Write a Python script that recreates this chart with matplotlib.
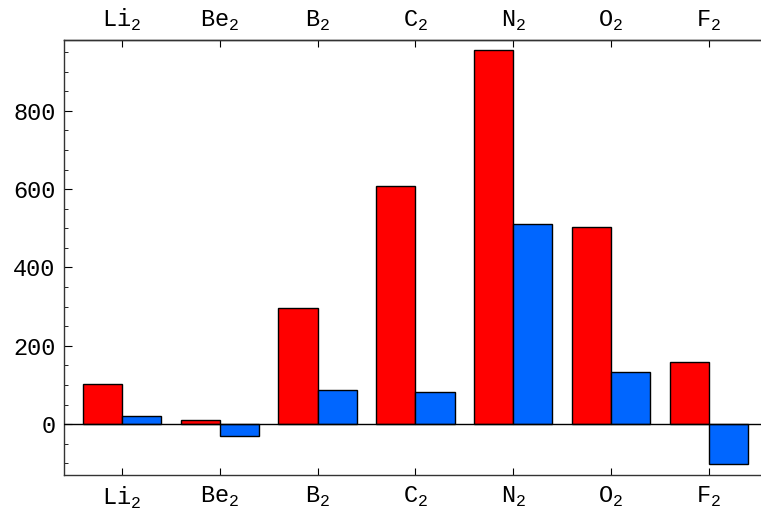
import matplotlib.pyplot as plt
import numpy as np

plt.rcParams['font.family'] = ['Liberation Mono', 'DejaVu Sans Mono']
plt.rcParams['mathtext.fontset'] = 'custom'
plt.rcParams['mathtext.rm'] = 'Liberation Mono'

# Datos
molecules = [r'Li$_\mathregular{2}$', r'Be$_\mathregular{2}$', r'B$_\mathregular{2}$',
             r'C$_\mathregular{2}$', r'N$_\mathregular{2}$', r'O$_\mathregular{2}$',
             r'F$_\mathregular{2}$']
red_values = [102, 10, 296, 608, 956, 503, 158]
blue_values = [20, -31, 87, 82, 511, 133, -102]
y_ticks = [0, 200, 400, 600, 800]

fig = plt.figure(figsize=(7.61, 5.12), dpi=100)
ax = fig.add_axes([64 / 761, 1 - 475 / 512, 1 - 64 / 761, 435 / 512])

x = np.arange(len(molecules))
w = 0.4
ax.bar(x - w / 2, red_values, width=w, color='#ff0000', edgecolor='black', linewidth=1, zorder=2)
ax.bar(x + w / 2, blue_values, width=w, color='#0066ff', edgecolor='black', linewidth=1, zorder=2)
ax.axhline(0, color='black', linewidth=1, zorder=3)

ax.set_xlim(-0.593, 6.534)
ax.set_ylim(-130, 981)

ax.set_xticks(x)
ax.set_xticklabels(molecules, fontsize=17)
ax.set_yticks(y_ticks)
ax.set_yticklabels([str(v) for v in y_ticks], fontsize=17)
ax.set_yticks(np.arange(-100, 1000, 50), minor=True)

ax.tick_params(axis='x', which='both', direction='in', top=False, bottom=True,
               length=5, pad=7)
ax.tick_params(axis='y', which='major', direction='in', length=6, pad=6)
ax.tick_params(axis='y', which='minor', direction='in', length=3)

# Eje superior con las mismas etiquetas
top = ax.secondary_xaxis('top')
top.set_xticks(x)
top.set_xticklabels(molecules, fontsize=17)
top.tick_params(direction='in', length=5, pad=5)
top.spines['top'].set_linewidth(1)
top.spines['top'].set_color('#333333')

for side in ['left', 'top', 'bottom']:
    ax.spines[side].set_linewidth(1)
    ax.spines[side].set_color('#333333')
ax.spines['right'].set_visible(False)

plt.savefig('out.png', dpi=100)
plt.close()
